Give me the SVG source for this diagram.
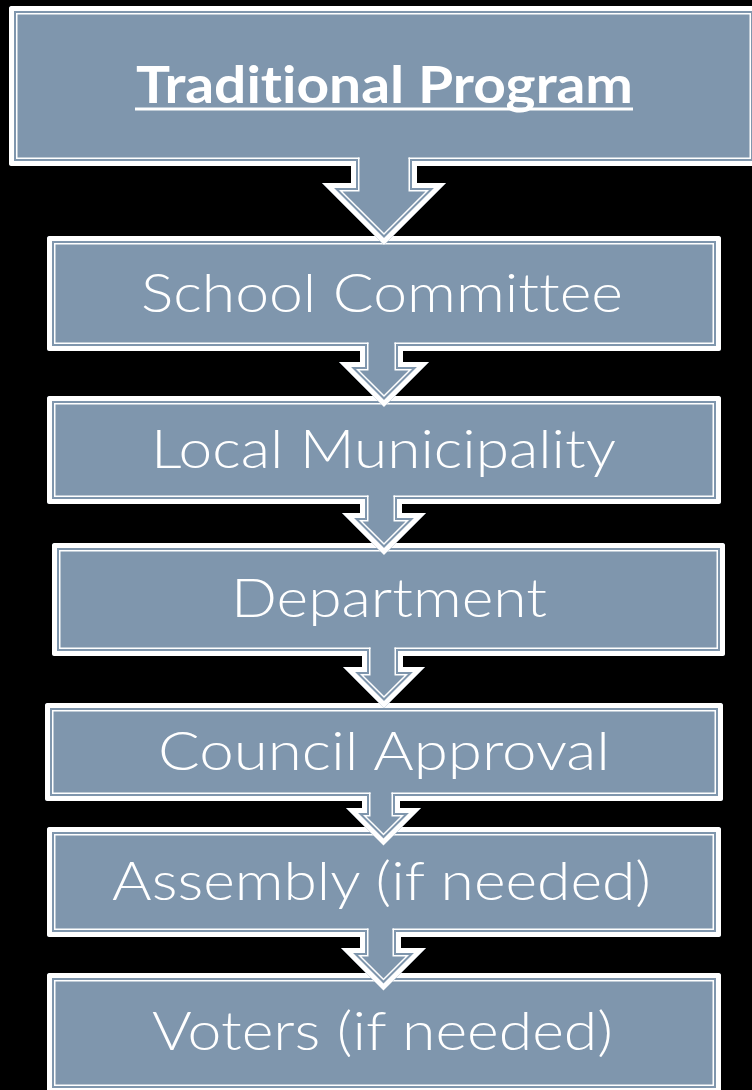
<svg xmlns="http://www.w3.org/2000/svg" width="752" height="1090" viewBox="0 0 752 1090">
  <style>
    .bg { fill: #000000; }
    .box { fill: #7f96ad; }
    .band { fill: none; stroke: #ffffff; stroke-width: 5; stroke-linejoin: round; stroke-linecap: square; }
    .line { fill: none; stroke: #ffffff; stroke-width: 1.5; stroke-linejoin: miter; stroke-linecap: square; }
    .afill { fill: #7f96ad; }
    .aband { fill: none; stroke: #ffffff; stroke-width: 5; stroke-linejoin: miter; stroke-linecap: square; }
    .label { font-family: "Lato", "Liberation Sans", sans-serif; font-size: 54px; fill: #ffffff; text-anchor: middle; font-weight: 300; font-variant-ligatures: none; }
    .title { font-family: "Lato", "Liberation Sans", sans-serif; font-size: 51px; fill: #ffffff; text-anchor: middle; font-weight: 700; font-variant-ligatures: none; }
  </style>

  <rect class="bg" x="0" y="0" width="752" height="1090"/>

  <!-- Title box -->
  <g id="node-traditional-program">
    <rect class="box" x="9" y="6" width="749" height="160" rx="3"/>
    <path class="band" d="M 353.5,163.5 H 11.5 V 8.5 H 755.5 V 163.5 H 414.5"/>
    <path class="line" d="M 358.75,158.25 H 16.75 V 13.75 H 750.25 V 158.25 H 409.25"/>
    <text class="title" x="384.5" y="103" textLength="497" lengthAdjust="spacingAndGlyphs">Traditional Program</text>
    <rect x="135" y="107.5" width="498" height="3" fill="#ffffff"/>
  </g>

  <g id="node-school-committee">
    <rect class="box" x="47" y="236" width="674" height="115" rx="3"/>
    <path class="band" d="M 362.5,348.5 H 49.5 V 238.5 H 718.5 V 348.5 H 400.5"/>
    <path class="line" d="M 367.75,343.25 H 54.75 V 243.75 H 713.25 V 343.25 H 395.25"/>
    <text class="label" x="382" y="312" textLength="482" lengthAdjust="spacingAndGlyphs">School Committee</text>
  </g>

  <g id="node-local-municipality">
    <rect class="box" x="47" y="396" width="674" height="108" rx="3"/>
    <path class="band" d="M 362.5,501.5 H 49.5 V 398.5 H 718.5 V 501.5 H 399.5"/>
    <path class="line" d="M 367.75,496.25 H 54.75 V 403.75 H 713.25 V 496.25 H 394.25"/>
    <text class="label" x="383.5" y="468" textLength="465" lengthAdjust="spacingAndGlyphs">Local Municipality</text>
  </g>

  <g id="node-department">
    <rect class="box" x="52" y="543" width="673" height="113" rx="3"/>
    <path class="band" d="M 364.5,653.5 H 54.5 V 545.5 H 722.5 V 653.5 H 400.5"/>
    <path class="line" d="M 369.75,648.25 H 59.75 V 550.75 H 717.25 V 648.25 H 395.25"/>
    <text class="label" x="389" y="617" textLength="316" lengthAdjust="spacingAndGlyphs">Department</text>
  </g>

  <g id="node-council-approval">
    <rect class="box" x="45" y="703" width="678" height="98" rx="3"/>
    <path class="band" d="M 364.5,798.5 H 47.5 V 705.5 H 720.5 V 798.5 H 397.5"/>
    <path class="line" d="M 369.75,793.25 H 52.75 V 710.75 H 715.25 V 793.25 H 392.25"/>
    <text class="label" x="384" y="770" textLength="452" lengthAdjust="spacingAndGlyphs">Council Approval</text>
  </g>

  <g id="node-assembly">
    <rect class="box" x="47" y="827" width="674" height="110" rx="3"/>
    <path class="band" d="M 362.5,934.5 H 49.5 V 829.5 H 718.5 V 934.5 H 398.5"/>
    <path class="line" d="M 367.75,929.25 H 54.75 V 834.75 H 713.25 V 929.25 H 393.25"/>
    <text class="label" x="381.5" y="900" textLength="539" lengthAdjust="spacingAndGlyphs">Assembly (if needed)</text>
  </g>

  <g id="node-voters">
    <rect class="box" x="47" y="973" width="674" height="120" rx="3"/>
    <rect class="band" x="49.5" y="975.5" width="669" height="115"/>
    <rect class="line" x="54.75" y="980.75" width="658.5" height="104.5"/>
    <text class="label" x="382.5" y="1050" textLength="461" lengthAdjust="spacingAndGlyphs">Voters (if needed)</text>
  </g>

  <!-- Block arrows joining each step to the next -->
  <g id="connectors">
    <g id="arrow-1">
      <path class="afill" d="M 351,162 V 183 H 322 L 384,245 L 446,183 H 417 V 162 Z"/>
      <path class="aband" d="M 353.5,163.5 V 185.5 H 328.04 L 384,241.46 L 439.96,185.5 H 414.5 V 163.5"/>
      <path class="line" d="M 358.75,158.25 V 190.75 H 340.71 L 384,234.04 L 427.29,190.75 H 409.25 V 158.25"/>
    </g>
    <g id="arrow-2">
      <path class="afill" d="M 360,347 V 362 H 339 L 384,407 L 429,362 H 403 V 347 Z"/>
      <path class="aband" d="M 362.5,348.5 V 364.5 H 345.04 L 384,403.46 L 422.96,364.5 H 400.5 V 348.5"/>
      <path class="line" d="M 367.75,343.25 V 369.75 H 357.71 L 384,396.04 L 410.29,369.75 H 395.25 V 343.25"/>
    </g>
    <g id="arrow-3">
      <path class="afill" d="M 360,500 V 513 H 342 L 384,555 L 426,513 H 402 V 500 Z"/>
      <path class="aband" d="M 362.5,501.5 V 515.5 H 348.04 L 384,551.46 L 419.96,515.5 H 399.5 V 501.5"/>
      <path class="line" d="M 367.75,496.25 V 520.75 H 360.71 L 384,544.04 L 407.29,520.75 H 394.25 V 496.25"/>
    </g>
    <g id="arrow-4">
      <path class="afill" d="M 362,652 V 667 H 343 L 384,708 L 425,667 H 403 V 652 Z"/>
      <path class="aband" d="M 364.5,653.5 V 669.5 H 349.04 L 384,704.46 L 418.96,669.5 H 400.5 V 653.5"/>
      <path class="line" d="M 369.75,648.25 V 674.75 H 361.71 L 384,697.04 L 406.29,674.75 H 395.25 V 648.25"/>
    </g>
    <g id="arrow-5">
      <path class="afill" d="M 362,797 V 808 H 346 L 383.5,845.5 L 421,808 H 400 V 797 Z"/>
      <path class="aband" d="M 364.5,798.5 V 810.5 H 352.04 L 383.5,841.96 L 414.96,810.5 H 397.5 V 798.5"/>
      <path class="line" d="M 369.75,793.25 V 815.75 H 364.71 L 383.5,834.54 L 402.29,815.75 H 392.25 V 793.25"/>
    </g>
    <g id="arrow-6">
      <path class="afill" d="M 360,933 V 948 H 341 L 383.5,990.5 L 426,948 H 401 V 933 Z"/>
      <path class="aband" d="M 362.5,934.5 V 950.5 H 347.04 L 383.5,986.96 L 419.96,950.5 H 398.5 V 934.5"/>
      <path class="line" d="M 367.75,929.25 V 955.75 H 359.71 L 383.5,979.54 L 407.29,955.75 H 393.25 V 929.25"/>
    </g>
  </g>
</svg>
